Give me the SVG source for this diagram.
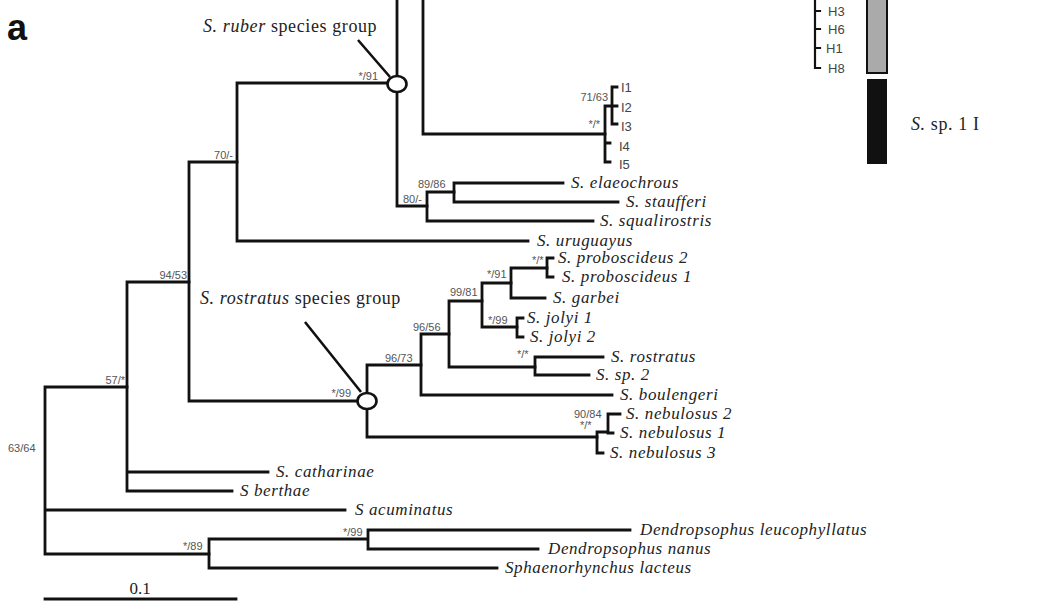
<svg xmlns="http://www.w3.org/2000/svg" width="1064" height="608" viewBox="0 0 1064 608">
<style>
.br{fill:none;stroke:#111;stroke-width:2.8;stroke-linecap:square;stroke-linejoin:miter}
.thin{fill:none;stroke:#111;stroke-width:2.2;stroke-linecap:square}
.ptr{fill:none;stroke:#111;stroke-width:2.6}
.nd{fill:#fff;stroke:#111;stroke-width:2.6}
.tx{font-family:"Liberation Serif",serif;font-style:italic;font-size:17px;fill:#222;letter-spacing:0.6px}
.grp{font-family:"Liberation Serif",serif;font-size:18px;fill:#222;letter-spacing:0.6px}
.bs{font-family:"Liberation Sans",Arial,sans-serif;font-size:11px;fill:#555}
.lt{font-family:"Liberation Sans",Arial,sans-serif;font-size:13px;fill:#444}
</style>
<rect width="1064" height="608" fill="#fff"/>
<text x="7" y="40" font-family="Liberation Sans, Arial, sans-serif" font-weight="bold" font-size="36" fill="#111">a</text>

<g id="connectors">
<path class="br" d="M45,387V554M45,387H127M45,510H345M45,554H209"/>
<path class="br" d="M127,282V491M127,282H189M127,472H268M127,491H232"/>
<path class="br" d="M189,162V401M189,162H237M189,401H360"/>
<path class="br" d="M237,83V241M237,83H390M237,241H528"/>
<path class="br" d="M397,0V206M397,206H427"/>
<path class="br" d="M423,0V134H605"/>
<path class="br" d="M427,192V221M427,192H454M427,221H593"/>
<path class="br" d="M454,183V202M454,183H563M454,202H618"/>
<path class="br" d="M605,106V162M605,143H610M605,162H610M605,106H612M612,87V124M612,87H617M612,106H617M612,124H617"/>
<path class="br" d="M367,365V437M367,365H421M367,437H597"/>
<path class="br" d="M421,334V395M421,334H449M421,395H612"/>
<path class="br" d="M449,301V367M449,301H482M449,367H535"/>
<path class="br" d="M482,283V327M482,283H511M482,327H517"/>
<path class="br" d="M511,268V298M511,268H547M511,298H545"/>
<path class="br" d="M547,258V277M547,258H553M547,277H553"/>
<path class="br" d="M517,318V337M517,318H523M517,337H523"/>
<path class="br" d="M535,357V375M535,357H603M535,375H589"/>
<path class="br" d="M597,432V453M597,453H603M597,432H608M608,414V433M608,414H620M608,433H613"/>
<path class="br" d="M209,539V568M209,539H368M209,568H497M368,530V549M368,530H630M368,549H538"/>
<path class="thin" d="M815,0V68M815,11H820M815,29H820M815,48H820M815,68H820"/>
<path class="ptr" d="M358,40L390,77M305,322L361,392"/>
<path class="br" d="M45,599H236"/>
</g>

<g id="node-ruber-group">
<ellipse class="nd" cx="397" cy="84" rx="9.5" ry="8"/>
<text class="grp" x="203" y="32"><tspan font-style="italic">S. ruber</tspan> species group</text>
</g>
<g id="node-rostratus-group">
<ellipse class="nd" cx="367" cy="401" rx="9.5" ry="8"/>
<text class="grp" x="200" y="304"><tspan font-style="italic">S. rostratus</tspan> species group</text>
</g>

<g id="support">
<text class="bs" x="8" y="452" font-size="9">63/64</text>
<text class="bs" x="125" y="384" text-anchor="end">57/*</text>
<text class="bs" x="187" y="279" text-anchor="end">94/53</text>
<text class="bs" x="233" y="159" text-anchor="end">70/-</text>
<text class="bs" x="378" y="80" text-anchor="end">*/91</text>
<text class="bs" x="351" y="397" text-anchor="end">*/99</text>
<text class="bs" x="403" y="203">80/-</text>
<text class="bs" x="418" y="188">89/86</text>
<text class="bs" x="608" y="101" text-anchor="end">71/63</text>
<text class="bs" x="600" y="128" text-anchor="end" fill="#888" font-size="9">*/*</text>
<text class="bs" x="385" y="362">96/73</text>
<text class="bs" x="413" y="331">96/56</text>
<text class="bs" x="450" y="296">99/81</text>
<text class="bs" x="487" y="278">*/91</text>
<text class="bs" x="488" y="324">*/99</text>
<text class="bs" x="532" y="264">*/*</text>
<text class="bs" x="517" y="358">*/*</text>
<text class="bs" x="574" y="418">90/84</text>
<text class="bs" x="580" y="429">*/*</text>
<text class="bs" x="343" y="536">*/99</text>
<text class="bs" x="183" y="550">*/89</text>
</g>

<g id="clade-I">
<text class="lt" x="621" y="92">I1</text>
<text class="lt" x="621" y="112">I2</text>
<text class="lt" x="621" y="131">I3</text>
<text class="lt" x="619" y="151">I4</text>
<text class="lt" x="619" y="169">I5</text>
</g>
<g id="clade-H">
<text class="lt" x="828" y="16">H3</text>
<text class="lt" x="828" y="34">H6</text>
<text class="lt" x="826" y="53">H1</text>
<text class="lt" x="828" y="73">H8</text>
</g>
<g id="bar-gray"><rect x="867" y="-2" width="20" height="75" fill="#aaa" stroke="#111" stroke-width="2"/></g>
<g id="bar-black">
<rect x="867" y="79" width="20" height="85" fill="#111"/>
<text class="grp" x="911" y="130" font-size="17"><tspan font-style="italic">S.</tspan> sp. 1 I</text>
</g>

<g id="t-elaeochrous"><text class="tx" x="571" y="188">S. elaeochrous</text></g>
<g id="t-staufferi"><text class="tx" x="626" y="207">S. staufferi</text></g>
<g id="t-squalirostris"><text class="tx" x="600" y="226">S. squalirostris</text></g>
<g id="t-uruguayus"><text class="tx" x="537" y="246">S. uruguayus</text></g>
<g id="t-proboscideus2"><text class="tx" x="558" y="263">S. proboscideus 2</text></g>
<g id="t-proboscideus1"><text class="tx" x="562" y="282">S. proboscideus 1</text></g>
<g id="t-garbei"><text class="tx" x="553" y="303">S. garbei</text></g>
<g id="t-jolyi1"><text class="tx" x="527" y="323">S. jolyi 1</text></g>
<g id="t-jolyi2"><text class="tx" x="530" y="342">S. jolyi 2</text></g>
<g id="t-rostratus"><text class="tx" x="611" y="362">S. rostratus</text></g>
<g id="t-sp2"><text class="tx" x="596" y="380">S. sp. 2</text></g>
<g id="t-boulengeri"><text class="tx" x="620" y="400">S. boulengeri</text></g>
<g id="t-nebulosus2"><text class="tx" x="626" y="419">S. nebulosus 2</text></g>
<g id="t-nebulosus1"><text class="tx" x="620" y="438">S. nebulosus 1</text></g>
<g id="t-nebulosus3"><text class="tx" x="610" y="458">S. nebulosus 3</text></g>
<g id="t-catharinae"><text class="tx" x="276" y="477">S. catharinae</text></g>
<g id="t-berthae"><text class="tx" x="240" y="496">S berthae</text></g>
<g id="t-acuminatus"><text class="tx" x="355" y="515">S acuminatus</text></g>
<g id="t-leucophyllatus"><text class="tx" x="640" y="535">Dendropsophus leucophyllatus</text></g>
<g id="t-nanus"><text class="tx" x="548" y="554">Dendropsophus nanus</text></g>
<g id="t-lacteus"><text class="tx" x="505" y="573">Sphaenorhynchus lacteus</text></g>

<g id="scale"><text x="140" y="594" text-anchor="middle" font-family="Liberation Serif, serif" font-size="17" fill="#222">0.1</text></g>
</svg>
